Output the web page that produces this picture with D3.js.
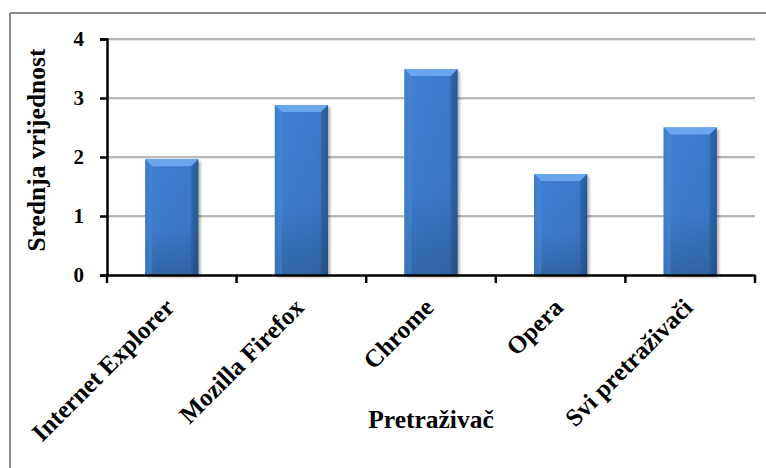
<!DOCTYPE html>
<html><head><meta charset="utf-8">
<script src="https://cdn.jsdelivr.net/npm/d3@7"></script>
</head><body style="margin:0;background:#fff">
<script>
const categories = ["Internet Explorer","Mozilla Firefox","Chrome","Opera","Svi pretraživači"];
const values = [1.96, 2.88, 3.49, 1.71, 2.50];
const yTicks = [0,1,2,3,4];
const yTitle = "Srednja vrijednost";
const xTitle = "Pretraživač";

function txt(sel,size){return sel.attr("font-family","Liberation Serif, Times New Roman, serif")
  .style("font-family",'"Liberation Serif", "Times New Roman", serif').style("font-weight","bold").style("font-size",size+"px").style("fill","#000");}
const W=766,H=468;
const svg=d3.select("body").append("svg").attr("width",W).attr("height",H).style("display","block");
const defs=svg.append("defs");
const g1=defs.append("linearGradient").attr("id","barH").attr("x1","0").attr("x2","1").attr("y1","0").attr("y2","0");
g1.append("stop").attr("offset","0").attr("stop-color","#3470bd");
g1.append("stop").attr("offset","0.12").attr("stop-color","#3f80d2");
g1.append("stop").attr("offset","0.85").attr("stop-color","#3b7acb");
g1.append("stop").attr("offset","1").attr("stop-color","#2c5f9e");
const g2=defs.append("linearGradient").attr("id","barV").attr("x1","0").attr("x2","0").attr("y1","0").attr("y2","1");
g2.append("stop").attr("offset","0").attr("stop-color","#000").attr("stop-opacity","0");
g2.append("stop").attr("offset","0.6").attr("stop-color","#000").attr("stop-opacity","0.04");
g2.append("stop").attr("offset","1").attr("stop-color","#000").attr("stop-opacity","0.2");
const f=defs.append("filter").attr("id","sh").attr("x","-20%").attr("y","-20%").attr("width","140%").attr("height","140%");
f.append("feGaussianBlur").attr("in","SourceAlpha").attr("stdDeviation","1.5");
f.append("feOffset").attr("dx","1.5").attr("dy","1.5").attr("result","b");
f.append("feComponentTransfer").append("feFuncA").attr("type","linear").attr("slope","0.35");
const fm=f.append("feMerge");fm.append("feMergeNode");fm.append("feMergeNode").attr("in","SourceGraphic");

svg.append("line").attr("x1",10).attr("x2",W).attr("y1",13).attr("y2",13).attr("stroke","#8a8a8a").attr("stroke-width",2);
svg.append("line").attr("x1",10).attr("x2",10).attr("y1",13).attr("y2",H).attr("stroke","#8a8a8a").attr("stroke-width",2);

const L=107,R=755,T=39,B=275;
const x=d3.scaleBand().domain(categories).range([L,R]).paddingInner(0.59).paddingOuter(0.295);
const xb=d3.scaleBand().domain(categories).range([L,R]);
const y=d3.scaleLinear().domain([0,4]).range([B,T]);

svg.append("g").selectAll("line").data(yTicks.filter(d=>d>0)).join("line")
 .attr("x1",L).attr("x2",R).attr("y1",d=>y(d)).attr("y2",d=>y(d))
 .attr("stroke","#a0a0a0").attr("stroke-width",1.5);
svg.append("g").selectAll("line").data(yTicks.filter(d=>d>0)).join("line")
 .attr("x1",L).attr("x2",R).attr("y1",d=>y(d)+1.5).attr("y2",d=>y(d)+1.5)
 .attr("stroke","#e4e4e4").attr("stroke-width",1);

const bars=svg.append("g").selectAll("g").data(categories).join("g");
bars.append("rect").attr("x",d=>x(d)).attr("width",x.bandwidth())
 .attr("y",(d,i)=>y(values[i])).attr("height",(d,i)=>B-y(values[i]))
 .attr("fill","url(#barH)").attr("filter","url(#sh)");
bars.append("rect").attr("x",d=>x(d)).attr("width",x.bandwidth())
 .attr("y",(d,i)=>y(values[i])).attr("height",(d,i)=>B-y(values[i]))
 .attr("fill","url(#barV)");
bars.append("path").attr("d",(d,i)=>{const x0=x(d),x1=x0+x.bandwidth(),t=y(values[i]),b=7;
  return `M${x0},${t}L${x1},${t}L${x1-b},${t+b}L${x0+b},${t+b}Z`;}).attr("fill","#6aa6ee");
bars.append("path").attr("d",(d,i)=>{const x0=x(d),t=y(values[i]),b=7;
  return `M${x0},${t}L${x0+b},${t+b}L${x0+b},${B}L${x0},${B}Z`;}).attr("fill","#4a8ad8").attr("opacity",0.5);
bars.append("path").attr("d",(d,i)=>{const x1=x(d)+x.bandwidth(),t=y(values[i]),b=7;
  return `M${x1},${t}L${x1-b},${t+b}L${x1-b},${B}L${x1},${B}Z`;}).attr("fill","#234f88").attr("opacity",0.35);

const yAxis=d3.axisLeft(y).tickValues(yTicks).tickSize(7).tickPadding(16).tickFormat(d3.format("d"));
const ya=svg.append("g").attr("transform",`translate(${L},0)`).call(yAxis);
ya.attr("font-family",null).attr("font-size",null);
ya.select(".domain").attr("stroke","#000").attr("stroke-width",2.5);
ya.selectAll(".tick line").attr("stroke","#000").attr("stroke-width",2.5);
txt(ya.selectAll(".tick text"),21);

const xAxis=d3.axisBottom(xb).tickSize(0).tickFormat("");
const xa=svg.append("g").attr("transform",`translate(0,${B})`).call(xAxis);
xa.select(".domain").attr("stroke","#000").attr("stroke-width",2.5);
xa.selectAll(".tick").remove();
const bounds=categories.map(d=>xb(d)).concat([R]);
svg.append("g").selectAll("line").data(bounds).join("line")
 .attr("x1",d=>d).attr("x2",d=>d).attr("y1",B).attr("y2",B+8)
 .attr("stroke","#000").attr("stroke-width",2.5);

txt(svg.append("g").selectAll("text").data(categories).join("text")
 .attr("text-anchor","end")
 .attr("transform",d=>`translate(${xb(d)+xb.bandwidth()/2+4},${B+34}) rotate(-45)`)
 .text(d=>d),25);

txt(svg.append("text").attr("text-anchor","middle").attr("x",(L+R)/2).attr("y",428).text(xTitle),25.5);
txt(svg.append("text").attr("text-anchor","middle").attr("transform",`translate(45,150) rotate(-90)`).text(yTitle),25.5);
</script>
</body></html>
